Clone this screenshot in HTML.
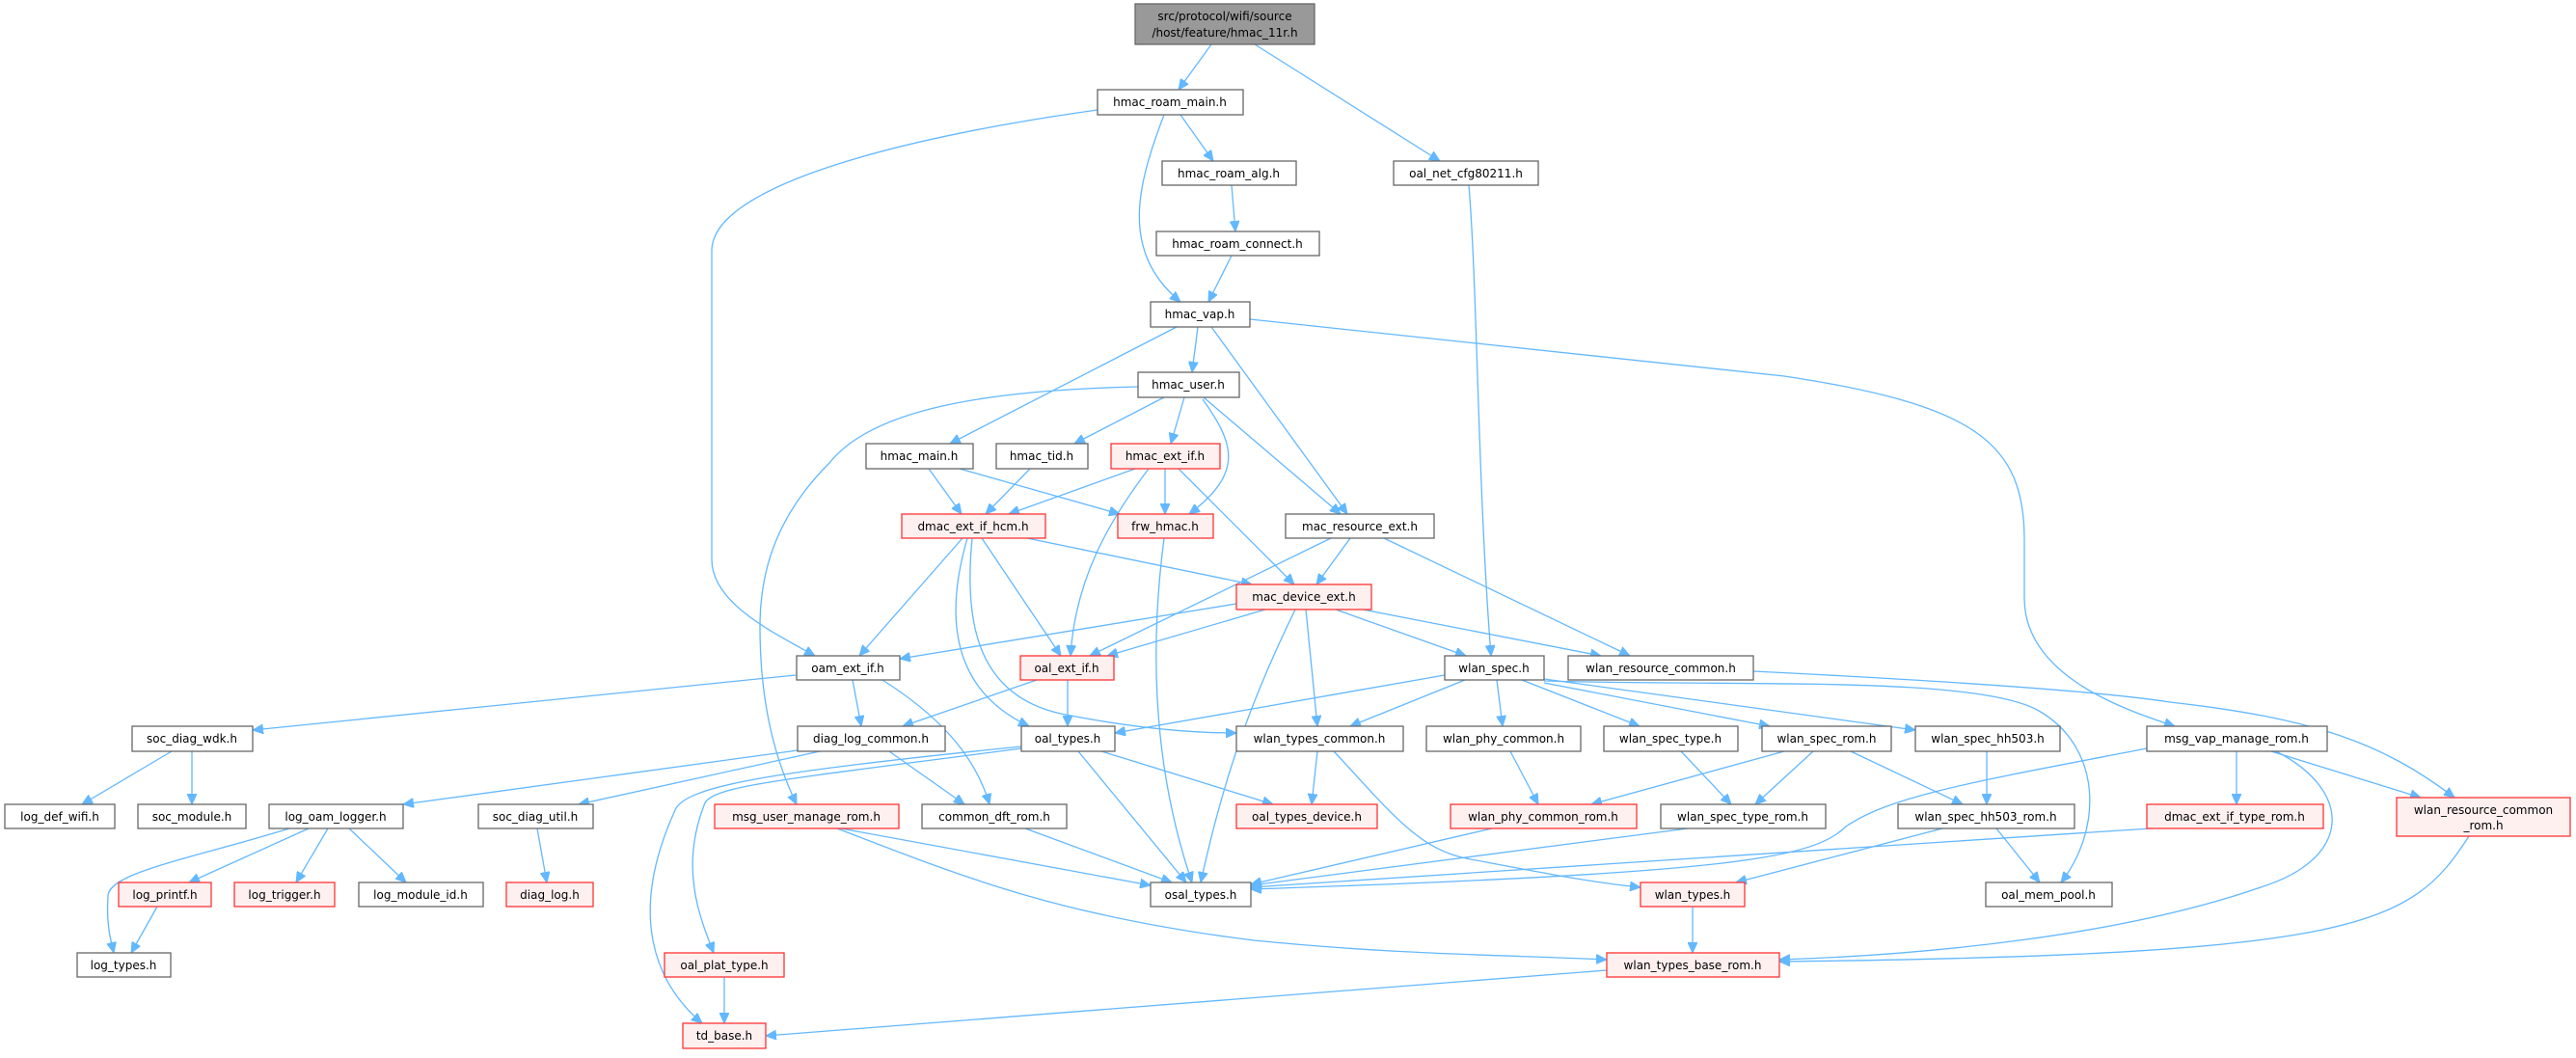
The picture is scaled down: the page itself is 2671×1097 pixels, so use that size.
<!DOCTYPE html>
<html><head><meta charset="utf-8"><style>
html,body{margin:0;padding:0;background:#fff;}
svg text{font-family:"DejaVu Sans","Liberation Sans",sans-serif;font-size:12px;fill:#000;text-anchor:middle;}
.n{fill:#fff;stroke:#666;stroke-width:1.3}
.r{fill:#fff0f0;stroke:#f33;stroke-width:1.3}
.g{fill:#999;stroke:#666;stroke-width:1.3}
.e{fill:none;stroke:#63b8ff;stroke-width:1.3;marker-end:url(#a)}
</style></head><body>
<svg width="2671" height="1092" viewBox="0 0 2671 1092" xmlns="http://www.w3.org/2000/svg">
<defs><marker id="a" markerUnits="userSpaceOnUse" markerWidth="12" markerHeight="10" refX="11" refY="5" orient="auto"><path d="M0,0 L11,5 L0,10 z" fill="#63b8ff" stroke="#63b8ff"/></marker></defs>
<g>
<path class="e" d="M1256,46 L1222,93"/>
<path class="e" d="M1301,46 L1493,167"/>
<path class="e" d="M1138,114 C950,140 738,190 738,260 L738,580 C738,625 800,655 845,680"/>
<path class="e" d="M1207,119 C1180,190 1160,260 1224,313"/>
<path class="e" d="M1224,119 L1258,167"/>
<path class="e" d="M1277,192 L1281,240"/>
<path class="e" d="M1277,265 L1253,313"/>
<path class="e" d="M1523,192 C1532,300 1532,500 1546,680"/>
<path class="e" d="M1296,331 L1850,390 C2050,420 2099,460 2099,560 L2099,620 C2099,700 2200,735 2255,753"/>
<path class="e" d="M1220,339 L985,460"/>
<path class="e" d="M1242,339 L1236,386"/>
<path class="e" d="M1256,339 L1397,533"/>
<path class="e" d="M1180,401 C1000,405 900,430 860,480 C800,540 788,600 788,650 C788,720 800,780 826,834"/>
<path class="e" d="M1207,412 L1114,460"/>
<path class="e" d="M1228,412 L1214,460"/>
<path class="e" d="M1247,414 C1280,460 1290,490 1233,533"/>
<path class="e" d="M1248,412 L1390,533"/>
<path class="e" d="M963,486 L997,533"/>
<path class="e" d="M995,486 L1161,533"/>
<path class="e" d="M1068,486 L1022,533"/>
<path class="e" d="M1177,486 L1046,533"/>
<path class="e" d="M1208,486 L1208,533"/>
<path class="e" d="M1191,486 C1150,540 1115,600 1110,680"/>
<path class="e" d="M1222,486 L1342,606"/>
<path class="e" d="M1400,558 L1365,606"/>
<path class="e" d="M1380,558 L1130,680"/>
<path class="e" d="M1435,558 L1690,680"/>
<path class="e" d="M998,558 L891,680"/>
<path class="e" d="M1018,558 L1100,680"/>
<path class="e" d="M1065,558 L1298,606"/>
<path class="e" d="M1003,558 C985,620 975,710 1067,753"/>
<path class="e" d="M1008,558 C1000,640 1010,720 1100,740 C1180,756 1240,760 1282,760"/>
<path class="e" d="M1282,626 L933,683"/>
<path class="e" d="M1312,632 L1148,680"/>
<path class="e" d="M1343,632 C1300,720 1270,800 1245,915"/>
<path class="e" d="M1354,632 L1366,753"/>
<path class="e" d="M1385,632 L1520,680"/>
<path class="e" d="M1413,632 L1660,680"/>
<path class="e" d="M1207,558 C1195,650 1190,780 1236,915"/>
<path class="e" d="M825,700 L262,757"/>
<path class="e" d="M884,705 L893,753"/>
<path class="e" d="M915,705 C970,740 1010,780 1026,834"/>
<path class="e" d="M1075,705 L936,753"/>
<path class="e" d="M1107,705 L1107,753"/>
<path class="e" d="M1498,700 L1156,760"/>
<path class="e" d="M1519,705 L1400,753"/>
<path class="e" d="M1552,705 L1558,753"/>
<path class="e" d="M1578,705 L1700,753"/>
<path class="e" d="M1601,708 L1835,753"/>
<path class="e" d="M1601,704 L1986,757"/>
<path class="e" d="M1601,706 C1800,712 2050,700 2114,737 C2180,775 2180,860 2137,915"/>
<path class="e" d="M1818,696 C2000,705 2172,716 2250,728 C2400,745 2470,770 2545,827"/>
<path class="e" d="M827,778 L418,834"/>
<path class="e" d="M850,779 L600,834"/>
<path class="e" d="M922,779 L1000,834"/>
<path class="e" d="M1059,774 C800,800 710,815 700,840 C650,950 680,1020 728,1061"/>
<path class="e" d="M1059,776 C800,810 735,815 730,835 C705,900 725,950 740,988"/>
<path class="e" d="M1118,779 L1230,915"/>
<path class="e" d="M1142,779 L1320,834"/>
<path class="e" d="M1366,779 L1360,834"/>
<path class="e" d="M1383,779 C1440,840 1470,880 1520,890 C1600,905 1650,915 1701,920"/>
<path class="e" d="M1566,779 L1595,834"/>
<path class="e" d="M1743,779 L1795,834"/>
<path class="e" d="M1850,779 L1650,834"/>
<path class="e" d="M1880,779 L1820,834"/>
<path class="e" d="M1919,779 L2035,834"/>
<path class="e" d="M2060,779 L2060,834"/>
<path class="e" d="M2226,776 C2050,810 1960,825 1914,857 C1880,890 1800,905 1297,922"/>
<path class="e" d="M2319,779 L2319,834"/>
<path class="e" d="M2355,779 L2510,827"/>
<path class="e" d="M2360,779 C2440,820 2440,890 2344,920 C2200,970 2000,990 1845,995"/>
<path class="e" d="M2560,867 C2500,960 2450,990 1845,997"/>
<path class="e" d="M300,859 C200,890 110,905 112,930 C110,960 115,975 118,988"/>
<path class="e" d="M320,859 L196,915"/>
<path class="e" d="M340,859 L307,915"/>
<path class="e" d="M362,859 L421,915"/>
<path class="e" d="M163,940 L136,988"/>
<path class="e" d="M178,779 L85,834"/>
<path class="e" d="M199,779 L199,834"/>
<path class="e" d="M557,859 L567,915"/>
<path class="e" d="M872,859 L1193,918"/>
<path class="e" d="M868,859 C1000,910 1100,950 1300,975 C1450,990 1560,990 1666,995"/>
<path class="e" d="M1063,859 L1215,915"/>
<path class="e" d="M1547,859 L1297,917"/>
<path class="e" d="M1750,859 L1297,918"/>
<path class="e" d="M2014,859 L1800,915"/>
<path class="e" d="M2070,859 L2115,915"/>
<path class="e" d="M2230,859 L1297,920"/>
<path class="e" d="M1755,940 L1755,988"/>
<path class="e" d="M1666,1006 L794,1074"/>
<path class="e" d="M751,1013 L751,1061"/>
</g>
<g>
<rect class="g" x="1177" y="4" width="186" height="42"/><text x="1270" y="21">src/protocol/wifi/source</text><text x="1270" y="38">/host/feature/hmac_11r.h</text>
<rect class="n" x="1138" y="93" width="151" height="26"/><text x="1213" y="110">hmac_roam_main.h</text>
<rect class="n" x="1205" y="167" width="139" height="25"/><text x="1274" y="184">hmac_roam_alg.h</text>
<rect class="n" x="1445" y="167" width="150" height="25"/><text x="1520" y="184">oal_net_cfg80211.h</text>
<rect class="n" x="1199" y="240" width="169" height="25"/><text x="1283" y="257">hmac_roam_connect.h</text>
<rect class="n" x="1193" y="313" width="103" height="26"/><text x="1244" y="330">hmac_vap.h</text>
<rect class="n" x="1180" y="386" width="105" height="26"/><text x="1232" y="403">hmac_user.h</text>
<rect class="n" x="898" y="460" width="111" height="26"/><text x="953" y="477">hmac_main.h</text>
<rect class="n" x="1033" y="460" width="95" height="26"/><text x="1080" y="477">hmac_tid.h</text>
<rect class="r" x="1152" y="460" width="113" height="26"/><text x="1208" y="477">hmac_ext_if.h</text>
<rect class="r" x="935" y="533" width="149" height="25"/><text x="1009" y="550">dmac_ext_if_hcm.h</text>
<rect class="r" x="1159" y="533" width="99" height="25"/><text x="1208" y="550">frw_hmac.h</text>
<rect class="n" x="1333" y="533" width="154" height="25"/><text x="1410" y="550">mac_resource_ext.h</text>
<rect class="r" x="1282" y="606" width="140" height="26"/><text x="1352" y="623">mac_device_ext.h</text>
<rect class="n" x="826" y="680" width="107" height="25"/><text x="879" y="697">oam_ext_if.h</text>
<rect class="r" x="1058" y="680" width="97" height="25"/><text x="1106" y="697">oal_ext_if.h</text>
<rect class="n" x="1498" y="680" width="103" height="25"/><text x="1549" y="697">wlan_spec.h</text>
<rect class="n" x="1626" y="680" width="192" height="25"/><text x="1722" y="697">wlan_resource_common.h</text>
<rect class="n" x="137" y="753" width="125" height="26"/><text x="199" y="770">soc_diag_wdk.h</text>
<rect class="n" x="827" y="753" width="153" height="26"/><text x="903" y="770">diag_log_common.h</text>
<rect class="n" x="1059" y="753" width="97" height="26"/><text x="1107" y="770">oal_types.h</text>
<rect class="n" x="1282" y="753" width="173" height="26"/><text x="1368" y="770">wlan_types_common.h</text>
<rect class="n" x="1479" y="753" width="160" height="26"/><text x="1559" y="770">wlan_phy_common.h</text>
<rect class="n" x="1663" y="753" width="139" height="26"/><text x="1732" y="770">wlan_spec_type.h</text>
<rect class="n" x="1827" y="753" width="134" height="26"/><text x="1894" y="770">wlan_spec_rom.h</text>
<rect class="n" x="1986" y="753" width="150" height="26"/><text x="2061" y="770">wlan_spec_hh503.h</text>
<rect class="n" x="2226" y="753" width="187" height="26"/><text x="2319" y="770">msg_vap_manage_rom.h</text>
<rect class="n" x="5" y="834" width="114" height="25"/><text x="62" y="851">log_def_wifi.h</text>
<rect class="n" x="143" y="834" width="112" height="25"/><text x="199" y="851">soc_module.h</text>
<rect class="n" x="279" y="834" width="139" height="25"/><text x="348" y="851">log_oam_logger.h</text>
<rect class="n" x="496" y="834" width="119" height="25"/><text x="555" y="851">soc_diag_util.h</text>
<rect class="r" x="741" y="834" width="191" height="25"/><text x="836" y="851">msg_user_manage_rom.h</text>
<rect class="n" x="956" y="834" width="150" height="25"/><text x="1031" y="851">common_dft_rom.h</text>
<rect class="r" x="1282" y="834" width="146" height="25"/><text x="1355" y="851">oal_types_device.h</text>
<rect class="r" x="1504" y="834" width="193" height="25"/><text x="1600" y="851">wlan_phy_common_rom.h</text>
<rect class="n" x="1722" y="834" width="171" height="25"/><text x="1807" y="851">wlan_spec_type_rom.h</text>
<rect class="n" x="1968" y="834" width="183" height="25"/><text x="2059" y="851">wlan_spec_hh503_rom.h</text>
<rect class="r" x="2226" y="834" width="183" height="25"/><text x="2317" y="851">dmac_ext_if_type_rom.h</text>
<rect class="r" x="2485" y="827" width="180" height="40"/><text x="2575" y="844">wlan_resource_common</text><text x="2575" y="860">_rom.h</text>
<rect class="r" x="123" y="915" width="96" height="25"/><text x="171" y="932">log_printf.h</text>
<rect class="r" x="243" y="915" width="104" height="25"/><text x="295" y="932">log_trigger.h</text>
<rect class="n" x="372" y="915" width="129" height="25"/><text x="436" y="932">log_module_id.h</text>
<rect class="r" x="525" y="915" width="90" height="25"/><text x="570" y="932">diag_log.h</text>
<rect class="n" x="1193" y="915" width="104" height="25"/><text x="1245" y="932">osal_types.h</text>
<rect class="r" x="1701" y="915" width="108" height="25"/><text x="1755" y="932">wlan_types.h</text>
<rect class="n" x="2059" y="915" width="131" height="25"/><text x="2124" y="932">oal_mem_pool.h</text>
<rect class="n" x="80" y="988" width="97" height="25"/><text x="128" y="1005">log_types.h</text>
<rect class="r" x="689" y="988" width="124" height="25"/><text x="751" y="1005">oal_plat_type.h</text>
<rect class="r" x="1666" y="988" width="179" height="25"/><text x="1755" y="1005">wlan_types_base_rom.h</text>
<rect class="r" x="708" y="1061" width="86" height="26"/><text x="751" y="1078">td_base.h</text>
</g>
</svg>
</body></html>
